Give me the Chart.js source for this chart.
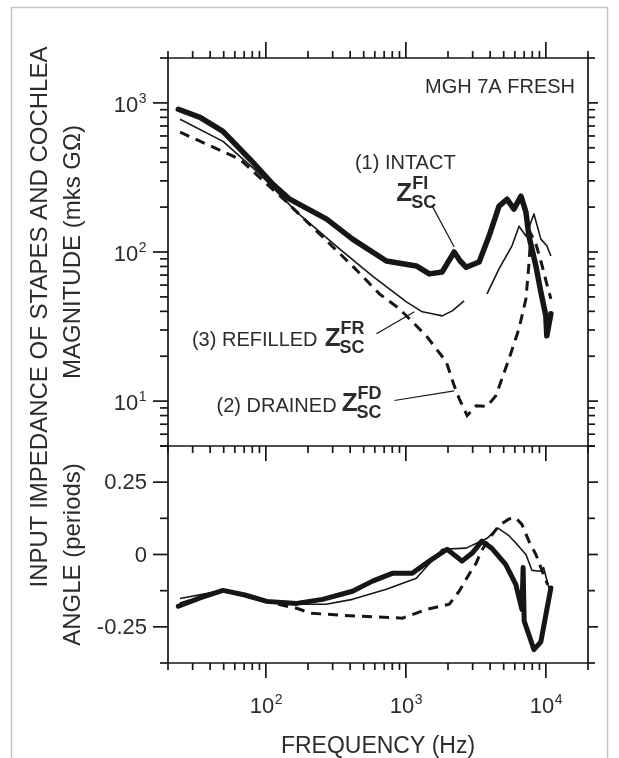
<!DOCTYPE html>
<html>
<head>
<meta charset="utf-8">
<script src="https://cdn.jsdelivr.net/npm/chart.js@4.4.1/dist/chart.umd.min.js"></script>
<style>
  html, body { margin: 0; padding: 0; background: #fff; }
  #wrap { position: relative; width: 619px; height: 758px; overflow: hidden; }
  #wrap canvas { position: absolute; left: 0; top: 0; }
</style>
</head>
<body>
<div id="wrap">
  <canvas id="magChart" width="619" height="758"></canvas>
  <canvas id="angChart" width="619" height="758"></canvas>
</div>
<script>
// axis ranges and ticks
const xMin = 20, xMax = 20000;
const magMin = 5, magMax = 2000;
const angMin = -0.375, angMax = 0.375;
const freqMajor = [100, 1000, 10000];
const magMajor = [10, 100, 1000];
const angMajor = [-0.25, 0, 0.25];
const angMinor = [-0.375, -0.125, 0.125, 0.375];
const angLabels = ['-0.25', '0', '0.25'];

// (1) intact - magnitude
const intactMagF = [23.7, 33.9, 49.4, 76.9, 112, 148, 272, 416, 726, 975, 1188, 1470, 1818, 2214, 2443, 2697, 3337, 3930, 4630, 5277, 5917, 6639, 7207, 7570, 8490, 9210, 10000, 10160, 10860];
const intactMag  = [906, 800, 644, 419, 285, 226, 166, 122, 87, 83, 80.6, 71.3, 73.5, 100, 87, 79, 85.7, 128, 203, 226, 194, 237, 185, 128, 80.6, 54, 37.3, 27.4, 38.5];
// (3) refilled - magnitude (gap near 3 kHz)
const refillMagF = [24.4, 49.4, 90.7, 166, 336, 578, 1009, 1310, 1545, 1818, 2144, 2608, 3000, 3800, 4630, 5730, 6430, 7207, 8220, 9210, 10160, 10860];
const refillMag  = [776, 552, 333, 185, 105, 69, 46.3, 39.7, 38.5, 37.3, 40.3, 47, null, 52.4, 77, 110, 149, 128, 180, 122, 110, 94];
// (2) drained - magnitude
const drainMagF = [24.4, 65.3, 141, 242, 416, 647, 899, 1400, 1940, 2214, 2404, 2740, 3178, 3800, 4405, 5453, 6430, 7207, 7570, 7820, 8490, 9210, 10160, 10860];
const drainMag  = [636, 419, 216, 132, 80.6, 52.4, 41.6, 27.4, 18.4, 12.7, 10.4, 8.0, 9.3, 9.2, 10.9, 19.2, 30.6, 48.5, 83, 132, 113, 87, 61, 48.5];

// angles (periods)
const intactAngF = [23.7, 33.9, 49.4, 70.9, 101.6, 166, 254, 416, 578, 800, 1110, 1470, 1970, 2520, 2980, 3490, 4100, 5160, 6100, 6745, 6880, 7000, 7570, 8220, 9210, 10000, 10860];
const intactAng  = [-0.179, -0.15, -0.124, -0.14, -0.162, -0.169, -0.155, -0.127, -0.092, -0.065, -0.065, -0.023, 0.018, -0.023, 0.005, 0.046, 0.022, -0.034, -0.103, -0.19, -0.045, -0.23, -0.278, -0.329, -0.302, -0.208, -0.116];
const refillAngF = [24.4, 49.4, 112, 172, 269, 416, 726, 1188, 1818, 2697, 3800, 4550, 5453, 6100, 7207, 7970, 9210, 9640, 10300, 10860];
const refillAng  = [-0.152, -0.124, -0.168, -0.172, -0.172, -0.155, -0.12, -0.082, 0.018, 0.022, 0.056, 0.091, 0.065, 0.04, 0.0, -0.055, -0.058, -0.045, -0.1, -0.135];
const drainAngF = [24.4, 49.4, 112, 166, 210, 444, 944, 1400, 2043, 2404, 2830, 3178, 3447, 4000, 4630, 5453, 6100, 6745, 7570, 8490, 9640, 10300];
const drainAng  = [-0.17, -0.124, -0.168, -0.186, -0.203, -0.213, -0.22, -0.19, -0.172, -0.127, -0.068, -0.03, 0.011, 0.06, 0.1, 0.123, 0.127, 0.104, 0.046, 0.0, -0.07, -0.104];

// annotations, in data coordinates (freq, magnitude)
const noteTexts = [
  { text: '(1) INTACT', f: 990, v: 359, align: 'center' },
  { text: '(3) REFILLED', f: 234, v: 23.5, align: 'right' },
  { text: '(2) DRAINED', f: 320, v: 8.5, align: 'right' }
];
const zLabels = [
  { f: 855, v: 219, sup: 'FI', sub: 'SC' },
  { f: 263, v: 23.5, sup: 'FR', sub: 'SC' },
  { f: 348, v: 8.6, sup: 'FD', sub: 'SC' }
];
const leaders = [
  [1545, 203, 2214, 108],
  [617, 28.3, 1150, 39.7],
  [828, 10.1, 2214, 11.7]
];

const ink = '#161616';
const txt = '#2c2c2c';
const FONT = '"Liberation Sans", Arial, sans-serif';

function pts(fs, vs) { return fs.map((f, i) => ({ x: f, y: vs[i] })); }

function logTicks(min, max) {
  const out = [];
  for (let k = -1; k <= 5; k++) {
    for (let m = 1; m <= 9; m++) {
      const v = m * Math.pow(10, k);
      if (v >= min - 1e-9 && v <= max + 1e-9) out.push(v);
    }
  }
  return out;
}

function seg(ctx, x1, y1, x2, y2) {
  ctx.beginPath(); ctx.moveTo(x1, y1); ctx.lineTo(x2, y2); ctx.stroke();
}

function powLabel(ctx, exp, x, y, align) {
  ctx.font = '22px ' + FONT;
  const w1 = ctx.measureText('10').width;
  ctx.font = '14px ' + FONT;
  const w2 = ctx.measureText(exp).width;
  const left = align === 'right' ? x - w1 - w2 : x - (w1 + w2) / 2;
  ctx.textAlign = 'left';
  ctx.font = '22px ' + FONT;
  ctx.fillText('10', left, y);
  ctx.font = '14px ' + FONT;
  ctx.fillText(exp, left + w1 + 0.5, y - 9);
}

function drawZ(ctx, x, y, sup, sub) {
  ctx.textAlign = 'left';
  ctx.font = 'bold 26px ' + FONT;
  const w = ctx.measureText('Z').width;
  ctx.fillText('Z', x, y);
  ctx.font = 'bold 18px ' + FONT;
  ctx.fillText(sup, x + w, y - 12);
  ctx.fillText(sub, x + w - 1, y + 7);
}

function vText(ctx, s, x, y, size) {
  ctx.save();
  ctx.translate(x, y);
  ctx.rotate(-Math.PI / 2);
  ctx.font = size + 'px ' + FONT;
  ctx.textAlign = 'center';
  ctx.textBaseline = 'middle';
  ctx.fillText(s, 0, 0);
  ctx.restore();
}

const magFrame = {
  id: 'magFrame',
  afterDraw(chart) {
    const { ctx, chartArea: a, scales: { x, y } } = chart;
    ctx.save();
    // page border
    ctx.strokeStyle = '#c4c4c4'; ctx.lineWidth = 1.5;
    ctx.strokeRect(11.5, 7.5, 596, 760);

    ctx.strokeStyle = ink; ctx.lineWidth = 1.7; ctx.lineCap = 'butt';
    seg(ctx, a.left, a.top, a.right, a.top);
    seg(ctx, a.left, a.top, a.left, a.bottom);
    seg(ctx, a.right, a.top, a.right, a.bottom);
    seg(ctx, a.left, a.bottom, a.right, a.bottom);

    logTicks(xMin, xMax).forEach(v => {
      const major = freqMajor.includes(v);
      const px = x.getPixelForValue(v);
      seg(ctx, px, a.top, px, a.top - (major ? 16 : 7));
      seg(ctx, px, a.bottom, px, a.bottom + (major ? 15 : 7));
    });
    logTicks(magMin, magMax).forEach(v => {
      const major = magMajor.includes(v);
      const py = y.getPixelForValue(v);
      seg(ctx, a.left, py, a.left - (major ? 15 : 8), py);
      seg(ctx, a.right, py, a.right + (major ? 10 : 7), py);
    });

    ctx.fillStyle = txt;
    ctx.textBaseline = 'alphabetic';
    magMajor.forEach(v => {
      const py = y.getPixelForValue(v);
      powLabel(ctx, String(Math.round(Math.log10(v))), a.left - 22, py + 9, 'right');
    });

    // panel text
    ctx.font = '20px ' + FONT;
    ctx.textAlign = 'right';
    ctx.fillText('MGH 7A FRESH', a.right - 13, a.top + 35);

    noteTexts.forEach(n => {
      ctx.font = '20px ' + FONT;
      ctx.textAlign = n.align;
      ctx.fillText(n.text, x.getPixelForValue(n.f), y.getPixelForValue(n.v));
    });
    zLabels.forEach(z => drawZ(ctx, x.getPixelForValue(z.f), y.getPixelForValue(z.v), z.sup, z.sub));

    ctx.strokeStyle = ink; ctx.lineWidth = 1.2;
    leaders.forEach(l => seg(ctx, x.getPixelForValue(l[0]), y.getPixelForValue(l[1]),
                                  x.getPixelForValue(l[2]), y.getPixelForValue(l[3])));

    // axis titles
    vText(ctx, 'INPUT IMPEDANCE OF STAPES AND COCHLEA', 40, 317, 24);
    vText(ctx, 'MAGNITUDE (mks G\u03A9)', 73, (a.top + a.bottom) / 2, 24);
    ctx.restore();
  }
};

const angFrame = {
  id: 'angFrame',
  afterDraw(chart) {
    const { ctx, chartArea: a, scales: { x, y } } = chart;
    ctx.save();
    ctx.strokeStyle = ink; ctx.lineWidth = 1.7;
    seg(ctx, a.left, a.top, a.left, a.bottom);
    seg(ctx, a.right, a.top, a.right, a.bottom);
    seg(ctx, a.left, a.bottom, a.right, a.bottom);

    logTicks(xMin, xMax).forEach(v => {
      const major = freqMajor.includes(v);
      const px = x.getPixelForValue(v);
      seg(ctx, px, a.bottom, px, a.bottom + (major ? 15 : 7));
    });
    angMajor.concat(angMinor).forEach(v => {
      const major = angMajor.includes(v);
      const py = y.getPixelForValue(v);
      seg(ctx, a.left, py, a.left - (major ? 15 : 8), py);
      seg(ctx, a.right, py, a.right + (major ? 10 : 7), py);
    });

    ctx.fillStyle = txt;
    ctx.font = '22px ' + FONT;
    ctx.textAlign = 'right';
    ctx.textBaseline = 'middle';
    angMajor.forEach((v, i) => ctx.fillText(angLabels[i], a.left - 21, y.getPixelForValue(v) + 1));

    ctx.textBaseline = 'alphabetic';
    freqMajor.forEach(v => {
      powLabel(ctx, String(Math.round(Math.log10(v))), x.getPixelForValue(v), a.bottom + 50, 'center');
    });

    ctx.font = '23px ' + FONT;
    ctx.textAlign = 'center';
    ctx.fillText('FREQUENCY (Hz)', (a.left + a.right) / 2, a.bottom + 90);

    vText(ctx, 'ANGLE (periods)', 73, (a.top + a.bottom) / 2, 24);
    ctx.restore();
  }
};

const thick = { borderColor: ink, borderWidth: 5.5, pointRadius: 0, tension: 0, borderJoinStyle: 'round', borderCapStyle: 'round' };
const thin = { borderColor: ink, borderWidth: 1.6, pointRadius: 0, tension: 0, borderJoinStyle: 'round' };
const dashed = { borderColor: ink, borderWidth: 3, borderDash: [10, 7], pointRadius: 0, tension: 0, borderCapStyle: 'butt' };

function baseOptions(yScale, pad) {
  return {
    responsive: false,
    animation: false,
    events: [],
    layout: { padding: pad },
    plugins: { legend: { display: false }, tooltip: { enabled: false } },
    scales: {
      x: { type: 'logarithmic', min: xMin, max: xMax, display: false },
      y: Object.assign({ display: false }, yScale)
    }
  };
}

new Chart(document.getElementById('magChart'), {
  type: 'line',
  data: {
    datasets: [
      Object.assign({ label: '(1) INTACT', data: pts(intactMagF, intactMag) }, thick),
      Object.assign({ label: '(3) REFILLED', data: pts(refillMagF, refillMag) }, thin),
      Object.assign({ label: '(2) DRAINED', data: pts(drainMagF, drainMag) }, dashed)
    ]
  },
  options: baseOptions({ type: 'logarithmic', min: magMin, max: magMax },
                      { left: 168, top: 58, right: 31, bottom: 312 }),
  plugins: [magFrame]
});

new Chart(document.getElementById('angChart'), {
  type: 'line',
  data: {
    datasets: [
      Object.assign({ label: '(1) INTACT', data: pts(intactAngF, intactAng) }, thick, { borderWidth: 5 }),
      Object.assign({ label: '(3) REFILLED', data: pts(refillAngF, refillAng) }, thin),
      Object.assign({ label: '(2) DRAINED', data: pts(drainAngF, drainAng) }, dashed)
    ]
  },
  options: baseOptions({ type: 'linear', min: angMin, max: angMax },
                      { left: 168, top: 446, right: 31, bottom: 95 }),
  plugins: [angFrame]
});
</script>
</body>
</html>
